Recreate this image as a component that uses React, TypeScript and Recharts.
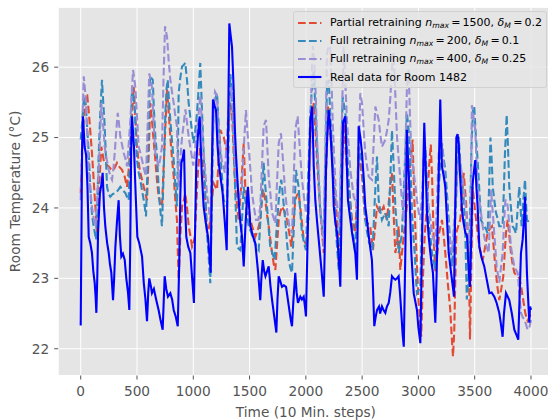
import { LineChart, Line, XAxis, YAxis, CartesianGrid } from 'recharts'

const FONT = '"DejaVu Sans", sans-serif'
const TEXT = '#555555'

const xTicks = [0, 500, 1000, 1500, 2000, 2500, 3000, 3500, 4000]
const yTicks = [22, 23, 24, 25, 26]

// [time step, temperature]
const realRoom: [number, number][] = [
  [0, 22.33], [12, 24.8], [20, 25.3], [35, 24.87], [48, 24.75], [60, 24.3], [71, 23.59], [85, 23.5], [100, 23.36], [112, 23.1],
  [124, 22.94], [132, 22.75], [139, 22.51], [147, 23.0], [154, 23.65], [170, 24.2], [185, 24.35], [195, 24.5], [207, 24.0], [219, 23.73],
  [235, 23.5], [249, 23.36], [260, 23.2], [272, 23.08], [287, 22.69], [297, 23.0], [308, 23.45], [322, 23.8], [337, 24.11], [348, 23.6],
  [361, 23.31], [375, 23.35], [391, 23.26], [405, 23.0], [420, 22.8], [432, 22.55], [440, 23.5], [448, 24.8], [456, 25.3], [473, 24.87],
  [488, 24.2], [503, 23.59], [520, 23.5], [545, 23.31], [560, 22.94], [575, 22.7], [589, 22.39], [600, 22.8], [609, 23.0], [622, 22.9],
  [633, 22.79], [650, 22.85], [670, 22.7], [692, 22.55], [710, 22.4], [728, 22.27], [738, 22.7], [746, 23.03], [760, 22.85], [775, 22.74],
  [796, 22.79], [812, 22.7], [826, 22.55], [845, 22.45], [862, 22.32], [875, 23.2], [885, 24.2], [894, 24.64], [905, 24.7], [918, 24.83],
  [928, 24.0], [938, 23.59], [955, 23.45], [974, 23.36], [990, 23.0], [1006, 22.65], [1015, 23.6], [1027, 24.64], [1040, 25.0], [1057, 25.3],
  [1075, 24.5], [1092, 24.02], [1110, 23.8], [1131, 23.59], [1145, 23.3], [1155, 23.08], [1165, 24.5], [1175, 25.54], [1190, 25.45], [1202, 25.39],
  [1215, 24.9], [1226, 24.64], [1245, 24.4], [1261, 24.21], [1280, 23.8], [1297, 23.4], [1310, 25.2], [1320, 26.62], [1332, 26.45], [1344, 26.29],
  [1359, 25.68], [1370, 25.1], [1379, 24.78], [1392, 24.4], [1403, 24.11], [1418, 23.8], [1433, 23.59], [1448, 23.17], [1462, 23.7], [1476, 24.1],
  [1486, 24.3], [1497, 24.0], [1507, 23.74], [1530, 23.6], [1551, 23.5], [1575, 23.1], [1595, 22.69], [1605, 23.0], [1617, 23.26], [1630, 23.1],
  [1641, 23.03], [1655, 23.1], [1670, 23.17], [1685, 22.9], [1700, 22.69], [1720, 22.45], [1738, 22.23], [1748, 22.7], [1759, 23.03], [1775, 22.95],
  [1788, 22.88], [1805, 22.9], [1824, 22.88], [1840, 22.7], [1857, 22.51], [1867, 22.4], [1877, 22.32], [1890, 22.7], [1906, 23.08], [1918, 22.8],
  [1930, 22.65], [1951, 22.74], [1965, 22.7], [1981, 22.74], [1992, 22.6], [2001, 22.46], [2015, 23.5], [2028, 24.5], [2040, 25.25], [2055, 25.44],
  [2062, 25.11], [2070, 24.6], [2084, 24.11], [2100, 23.8], [2120, 23.45], [2140, 23.1], [2159, 22.74], [2170, 23.6], [2179, 24.54], [2190, 25.0],
  [2203, 25.39], [2215, 25.2], [2226, 24.87], [2240, 24.4], [2248, 24.02], [2262, 23.8], [2277, 23.65], [2292, 23.3], [2306, 22.88], [2318, 24.0],
  [2330, 25.21], [2351, 25.3], [2362, 24.7], [2374, 24.11], [2390, 23.9], [2410, 23.65], [2425, 23.5], [2439, 23.36], [2454, 22.98], [2462, 24.0],
  [2469, 25.16], [2485, 25.0], [2499, 24.78], [2515, 24.4], [2528, 24.02], [2545, 23.8], [2563, 23.55], [2575, 23.4], [2587, 23.26], [2598, 22.8],
  [2608, 22.32], [2620, 22.45], [2632, 22.55], [2650, 22.6], [2660, 22.5], [2676, 22.6], [2690, 22.55], [2706, 22.51], [2720, 22.6], [2736, 22.65],
  [2750, 22.8], [2765, 23.03], [2780, 23.0], [2795, 22.98], [2810, 23.0], [2824, 23.03], [2836, 22.8], [2848, 22.51], [2860, 22.2], [2870, 22.03],
  [2885, 23.5], [2898, 25.11], [2910, 24.6], [2919, 24.3], [2937, 23.36], [2958, 22.79], [2975, 22.65], [2987, 22.55], [3000, 22.3], [3017, 22.08],
  [3030, 23.3], [3045, 24.7], [3052, 25.21], [3064, 24.6], [3076, 23.93], [3091, 23.6], [3106, 23.36], [3118, 23.2], [3129, 23.08], [3140, 22.7],
  [3150, 22.37], [3161, 23.0], [3171, 23.74], [3183, 24.7], [3194, 25.54], [3202, 25.0], [3209, 24.59], [3225, 24.45], [3239, 24.3], [3255, 23.8],
  [3269, 23.36], [3285, 23.15], [3298, 22.98], [3308, 22.85], [3316, 22.74], [3327, 24.0], [3337, 25.0], [3348, 25.05], [3358, 24.9], [3372, 24.4],
  [3387, 23.97], [3400, 23.8], [3417, 23.65], [3432, 23.6], [3447, 23.1], [3458, 22.88], [3470, 23.6], [3480, 24.3], [3488, 24.45], [3505, 24.68],
  [3515, 24.3], [3526, 24.02], [3541, 23.45], [3560, 23.3], [3585, 23.17], [3605, 23.0], [3630, 22.79], [3650, 22.8], [3674, 22.74], [3695, 22.65],
  [3718, 22.51], [3733, 22.35], [3748, 22.17], [3760, 22.5], [3778, 22.79], [3790, 22.75], [3807, 22.69], [3830, 22.5], [3852, 22.27], [3870, 22.2],
  [3887, 22.13], [3900, 22.8], [3911, 23.36], [3926, 23.55], [3940, 23.9], [3947, 24.16], [3955, 23.6], [3964, 23.08], [3975, 22.7], [3985, 22.37],
  [3992, 22.6], [4000, 22.55],
]

const partial1500: [number, number][] = [
  [0, 24.21], [15, 24.9], [30, 25.4], [45, 25.6], [58, 25.6], [75, 25.3], [100, 24.78], [115, 24.4], [130, 24.02], [145, 23.65],
  [160, 24.2], [183, 24.87], [204, 24.68], [225, 24.62], [249, 24.59], [270, 24.55], [293, 24.54], [310, 24.6], [322, 24.64], [345, 24.58],
  [367, 24.54], [390, 24.45], [411, 24.3], [430, 24.6], [450, 25.16], [471, 25.72], [485, 25.3], [500, 24.87], [515, 24.65], [529, 24.5],
  [545, 24.4], [560, 24.3], [575, 24.2], [589, 24.11], [605, 24.8], [618, 25.49], [633, 25.25], [648, 24.95], [663, 24.68], [677, 24.4],
  [692, 24.16], [708, 24.05], [722, 24.02], [745, 24.9], [767, 25.68], [780, 25.4], [796, 25.01], [811, 24.7], [826, 24.45], [841, 24.1],
  [855, 23.83], [862, 23.4], [870, 22.98], [885, 23.6], [900, 24.02], [915, 24.1], [929, 24.21], [945, 24.0], [959, 23.74], [975, 23.6],
  [989, 23.45], [1001, 23.5], [1013, 23.59], [1028, 24.1], [1042, 24.54], [1062, 24.87], [1077, 24.7], [1092, 24.5], [1107, 24.1], [1122, 23.65],
  [1137, 23.7], [1151, 23.83], [1166, 24.1], [1181, 24.35], [1196, 24.3], [1211, 24.26], [1225, 24.7], [1240, 25.11], [1255, 25.05], [1270, 25.01],
  [1285, 24.9], [1300, 24.78], [1315, 25.2], [1328, 25.49], [1344, 25.35], [1358, 24.8], [1373, 24.3], [1388, 24.05], [1403, 23.83], [1425, 24.3],
  [1448, 24.92], [1462, 24.3], [1485, 24.05], [1507, 23.83], [1530, 23.7], [1551, 23.59], [1575, 23.7], [1595, 23.83], [1609, 24.1], [1619, 24.26],
  [1640, 24.11], [1655, 23.9], [1670, 23.74], [1685, 23.55], [1700, 23.36], [1715, 23.2], [1729, 23.12], [1745, 23.5], [1759, 23.83], [1774, 23.95],
  [1788, 24.02], [1810, 23.95], [1833, 23.83], [1852, 23.65], [1871, 23.45], [1890, 23.8], [1906, 24.11], [1921, 24.18], [1936, 24.21], [1958, 23.9],
  [1981, 23.55], [1995, 23.5], [2010, 23.45], [2025, 24.2], [2040, 25.01], [2055, 25.3], [2070, 25.49], [2085, 25.1], [2099, 24.68], [2114, 24.3],
  [2128, 23.97], [2144, 23.65], [2159, 23.36], [2178, 24.4], [2197, 25.44], [2215, 25.1], [2232, 24.78], [2255, 24.3], [2277, 23.83], [2292, 23.17],
  [2314, 24.2], [2336, 25.25], [2350, 24.9], [2365, 24.54], [2388, 24.2], [2410, 23.83], [2425, 23.75], [2439, 23.65], [2454, 24.2], [2469, 24.78],
  [2484, 24.6], [2499, 24.45], [2514, 24.1], [2528, 23.83], [2550, 23.78], [2572, 23.74], [2585, 23.55], [2596, 23.4], [2614, 23.7], [2632, 24.02],
  [2647, 23.97], [2661, 23.93], [2676, 23.97], [2691, 24.02], [2706, 23.92], [2720, 23.83], [2735, 24.05], [2750, 24.3], [2765, 24.5], [2780, 23.9],
  [2795, 23.36], [2810, 23.5], [2824, 23.74], [2839, 23.12], [2854, 23.36], [2876, 23.7], [2898, 24.02], [2920, 24.5], [2948, 24.97], [2960, 24.3],
  [2972, 23.74], [2987, 23.2], [3002, 22.65], [3015, 22.4], [3025, 22.17], [3040, 23.0], [3055, 23.6], [3075, 24.0], [3095, 24.6], [3110, 24.9],
  [3122, 24.4], [3135, 23.6], [3150, 23.1], [3165, 23.3], [3185, 23.65], [3209, 23.83], [3225, 23.6], [3239, 23.36], [3260, 22.95], [3283, 22.55],
  [3295, 22.2], [3307, 21.89], [3318, 22.23], [3328, 23.0], [3337, 23.65], [3355, 23.75], [3372, 23.83], [3390, 24.2], [3402, 24.5], [3412, 24.3],
  [3422, 24.11], [3435, 23.7], [3447, 23.36], [3452, 22.8], [3458, 22.13], [3470, 23.2], [3482, 24.3], [3505, 23.93], [3541, 23.45], [3571, 23.26],
  [3593, 23.45], [3615, 23.65], [3634, 23.7], [3653, 23.74], [3668, 23.45], [3683, 23.17], [3700, 22.9], [3718, 22.69], [3736, 22.85], [3754, 23.03],
  [3766, 23.35], [3778, 23.65], [3793, 23.83], [3808, 23.6], [3822, 23.36], [3837, 23.2], [3852, 23.08], [3867, 23.05], [3882, 23.03], [3897, 23.0],
  [3911, 22.9], [3930, 22.7], [3950, 22.5], [3970, 22.4], [3985, 22.45], [4000, 22.5],
]

const full200: [number, number][] = [
  [0, 24.97], [12, 25.2], [25, 25.5], [40, 25.58], [55, 25.2], [71, 24.78], [85, 24.3], [94, 24.02], [105, 23.85], [115, 23.74],
  [125, 23.65], [136, 23.55], [148, 24.1], [160, 24.78], [175, 25.4], [189, 25.82], [200, 25.5], [210, 25.25], [222, 24.8], [234, 24.3],
  [248, 24.2], [263, 24.16], [285, 24.2], [308, 24.21], [330, 24.25], [352, 24.3], [375, 24.25], [397, 24.21], [412, 24.15], [426, 24.11],
  [440, 24.9], [456, 25.72], [468, 25.6], [480, 25.44], [490, 25.0], [500, 24.68], [515, 24.5], [529, 24.4], [545, 24.25], [560, 24.11],
  [570, 24.0], [580, 23.88], [598, 24.8], [616, 25.87], [625, 25.85], [640, 25.82], [650, 25.4], [663, 25.01], [675, 24.8], [692, 24.3],
  [705, 24.0], [722, 23.74], [737, 24.5], [752, 25.35], [763, 25.7], [773, 25.82], [785, 25.5], [796, 25.25], [811, 24.95], [826, 24.68],
  [840, 24.35], [855, 24.02], [862, 24.6], [870, 25.63], [885, 25.85], [900, 26.01], [915, 26.03], [929, 26.06], [945, 25.8], [959, 25.49],
  [980, 25.2], [1003, 24.92], [1018, 25.1], [1033, 25.35], [1048, 25.7], [1062, 26.06], [1077, 25.4], [1092, 24.78], [1107, 24.2], [1122, 23.64],
  [1137, 23.3], [1151, 22.93], [1166, 24.2], [1181, 25.49], [1196, 25.55], [1211, 25.63], [1225, 25.2], [1240, 24.78], [1255, 24.45], [1270, 24.11],
  [1285, 24.05], [1300, 24.02], [1315, 25.0], [1330, 25.9], [1344, 25.6], [1359, 24.9], [1373, 24.21], [1388, 23.45], [1403, 23.42], [1418, 23.4],
  [1432, 23.8], [1448, 24.3], [1470, 24.0], [1492, 23.74], [1515, 23.65], [1537, 23.55], [1560, 23.45], [1581, 23.4], [1603, 24.0], [1625, 24.64],
  [1640, 24.3], [1655, 24.02], [1670, 23.7], [1684, 23.45], [1705, 23.35], [1723, 23.26], [1740, 23.7], [1759, 24.11], [1770, 24.3], [1782, 24.4],
  [1800, 24.1], [1817, 23.83], [1833, 23.5], [1848, 23.26], [1862, 23.15], [1877, 23.08], [1895, 23.8], [1912, 24.54], [1925, 24.4], [1936, 24.3],
  [1950, 23.95], [1966, 23.64], [1985, 23.5], [2001, 23.4], [2020, 24.4], [2040, 25.35], [2055, 25.72], [2070, 25.96], [2085, 25.4], [2099, 24.87],
  [2114, 24.4], [2128, 23.93], [2144, 23.75], [2159, 23.59], [2173, 24.7], [2188, 25.72], [2203, 25.82], [2218, 25.3], [2232, 24.87], [2247, 24.35],
  [2262, 23.83], [2277, 23.45], [2292, 23.12], [2310, 24.4], [2327, 25.58], [2340, 25.45], [2351, 25.35], [2365, 24.9], [2380, 24.4], [2395, 24.05],
  [2410, 23.74], [2425, 23.55], [2439, 23.36], [2454, 24.1], [2469, 24.87], [2484, 24.75], [2499, 24.64], [2514, 24.2], [2528, 23.83], [2545, 23.65],
  [2563, 23.5], [2578, 23.45], [2593, 23.4], [2612, 24.1], [2632, 24.73], [2640, 24.4], [2647, 24.11], [2662, 23.95], [2676, 23.83], [2691, 23.88],
  [2706, 23.93], [2721, 23.85], [2736, 23.74], [2750, 24.4], [2765, 25.1], [2780, 24.6], [2795, 24.02], [2810, 23.7], [2824, 23.36], [2840, 23.5],
  [2854, 23.64], [2876, 24.5], [2898, 25.35], [2919, 25.01], [2931, 24.5], [2943, 23.93], [2955, 23.6], [2967, 23.36], [2978, 23.0], [2987, 22.79],
  [3002, 22.83], [3017, 22.88], [3032, 23.8], [3047, 24.68], [3061, 24.87], [3076, 24.35], [3091, 23.83], [3106, 23.6], [3120, 23.36], [3135, 23.25],
  [3150, 23.12], [3165, 23.7], [3180, 24.3], [3195, 24.6], [3209, 24.92], [3224, 24.7], [3239, 24.54], [3254, 24.2], [3269, 23.83], [3284, 23.5],
  [3298, 23.17], [3313, 23.5], [3327, 23.83], [3342, 24.4], [3358, 25.01], [3372, 24.65], [3387, 24.3], [3402, 24.15], [3417, 23.6], [3430, 22.7],
  [3445, 23.0], [3460, 24.0], [3472, 24.9], [3487, 25.44], [3496, 25.44], [3511, 25.0], [3526, 24.68], [3541, 24.25], [3556, 23.83], [3570, 23.78],
  [3585, 23.74], [3600, 23.7], [3615, 23.64], [3628, 24.3], [3640, 25.0], [3652, 24.65], [3660, 24.3], [3675, 24.1], [3689, 23.93], [3704, 23.85],
  [3718, 23.74], [3733, 23.74], [3748, 23.74], [3758, 24.2], [3769, 24.78], [3784, 25.32], [3795, 24.9], [3807, 24.3], [3822, 24.0], [3837, 23.74],
  [3852, 23.7], [3867, 23.64], [3882, 24.0], [3896, 24.3], [3907, 24.0], [3917, 23.74], [3932, 24.1], [3947, 24.4], [3955, 24.1], [3964, 23.83],
  [3980, 23.8], [3994, 23.83],
]

const full400: [number, number][] = [
  [0, 24.11], [10, 24.8], [20, 25.5], [27, 25.87], [37, 25.7], [47, 25.49], [60, 24.95], [71, 24.54], [85, 24.25], [100, 24.02],
  [115, 23.85], [130, 23.74], [145, 24.1], [160, 24.54], [172, 25.0], [183, 25.49], [198, 25.2], [213, 24.87], [230, 24.7], [249, 24.54],
  [264, 24.45], [278, 24.4], [290, 24.55], [302, 24.78], [316, 25.1], [329, 25.35], [340, 25.2], [352, 25.01], [367, 24.9], [382, 24.78],
  [397, 24.7], [411, 24.59], [426, 24.9], [441, 25.25], [453, 25.6], [465, 25.96], [475, 25.85], [485, 25.72], [500, 25.3], [515, 24.87],
  [530, 24.78], [545, 24.68], [562, 24.55], [580, 24.45], [595, 25.2], [609, 25.91], [621, 25.82], [633, 25.72], [648, 25.2], [663, 24.78],
  [677, 24.68], [692, 24.59], [707, 24.7], [722, 24.87], [735, 25.8], [749, 26.58], [767, 26.43], [781, 26.1], [796, 25.82], [811, 25.65],
  [826, 25.49], [841, 25.3], [855, 25.16], [862, 24.7], [870, 24.3], [885, 24.7], [900, 25.0], [915, 25.2], [930, 25.4], [945, 25.2],
  [960, 25.0], [980, 24.8], [1000, 24.6], [1020, 24.9], [1040, 25.2], [1062, 25.6], [1077, 25.2], [1092, 24.8], [1107, 24.5], [1122, 24.2],
  [1137, 24.0], [1150, 23.8], [1165, 24.6], [1180, 25.3], [1193, 25.65], [1210, 25.6], [1222, 25.2], [1237, 24.9], [1252, 24.68], [1266, 24.6],
  [1281, 24.5], [1295, 24.9], [1310, 25.3], [1325, 25.6], [1344, 25.72], [1358, 25.1], [1373, 24.59], [1388, 24.35], [1403, 24.11], [1418, 24.2],
  [1433, 24.3], [1450, 24.9], [1468, 25.39], [1480, 25.1], [1492, 24.87], [1507, 24.55], [1522, 24.21], [1540, 24.0], [1557, 23.83], [1578, 23.83],
  [1595, 24.02], [1610, 24.6], [1625, 25.16], [1646, 25.25], [1658, 24.85], [1670, 24.45], [1685, 24.2], [1700, 23.93], [1715, 23.85], [1729, 23.78],
  [1745, 24.4], [1759, 24.92], [1779, 25.06], [1798, 24.65], [1817, 24.21], [1835, 23.95], [1853, 23.74], [1865, 23.7], [1877, 23.64], [1892, 24.4],
  [1906, 25.11], [1927, 25.3], [1946, 24.85], [1966, 24.4], [1984, 24.15], [2001, 23.93], [2025, 23.83], [2040, 24.9], [2052, 25.9], [2062, 26.3],
  [2075, 26.1], [2088, 25.6], [2099, 25.01], [2114, 24.5], [2128, 24.02], [2144, 23.7], [2159, 23.45], [2173, 24.9], [2188, 26.2], [2203, 26.3],
  [2217, 26.29], [2228, 25.8], [2238, 25.25], [2252, 24.7], [2267, 24.21], [2282, 23.95], [2297, 23.74], [2312, 24.7], [2327, 25.72], [2336, 26.29],
  [2350, 25.8], [2365, 25.25], [2380, 24.9], [2395, 24.54], [2410, 24.35], [2425, 24.16], [2440, 24.1], [2454, 24.02], [2469, 24.8], [2484, 25.63],
  [2499, 25.49], [2514, 25.1], [2528, 24.78], [2543, 24.6], [2558, 24.45], [2572, 24.42], [2587, 24.4], [2602, 24.9], [2617, 25.44], [2632, 25.35],
  [2647, 25.25], [2661, 25.05], [2676, 24.87], [2691, 24.92], [2706, 24.97], [2721, 25.1], [2736, 25.25], [2750, 25.55], [2759, 25.82], [2770, 26.1],
  [2780, 26.2], [2795, 25.6], [2810, 25.01], [2824, 24.7], [2839, 24.4], [2854, 24.1], [2869, 23.83], [2884, 24.8], [2898, 25.72], [2913, 25.96],
  [2925, 25.3], [2937, 24.78], [2950, 24.6], [2962, 24.45], [2975, 24.3], [2987, 24.11], [3002, 23.95], [3017, 23.83], [3032, 24.2], [3047, 24.64],
  [3061, 24.6], [3076, 24.3], [3091, 24.02], [3106, 23.85], [3120, 23.64], [3135, 23.55], [3150, 23.45], [3165, 24.1], [3180, 24.78], [3195, 24.85],
  [3209, 24.92], [3224, 24.6], [3239, 24.3], [3254, 23.95], [3269, 23.64], [3284, 23.5], [3298, 23.36], [3313, 23.7], [3327, 24.02], [3342, 24.4],
  [3358, 24.78], [3380, 24.55], [3402, 24.3], [3417, 24.05], [3431, 23.83], [3446, 23.6], [3461, 23.36], [3468, 24.4], [3475, 25.46], [3482, 25.39],
  [3494, 25.25], [3505, 25.11], [3515, 24.7], [3526, 24.3], [3541, 24.1], [3556, 23.93], [3570, 23.75], [3585, 23.59], [3605, 23.45], [3624, 23.36],
  [3635, 23.8], [3645, 24.26], [3655, 24.05], [3665, 23.83], [3680, 23.5], [3695, 23.17], [3707, 23.05], [3718, 22.94], [3733, 23.15], [3748, 23.36],
  [3760, 23.75], [3772, 24.11], [3784, 24.11], [3793, 24.02], [3808, 23.75], [3822, 23.45], [3837, 23.3], [3852, 23.17], [3867, 23.12], [3882, 23.08],
  [3896, 22.8], [3911, 22.51], [3926, 22.45], [3941, 22.41], [3955, 22.35], [3970, 22.27], [3985, 22.3], [4000, 22.41],
]

const toRows = (pts: [number, number][]) => pts.map(([t, v]) => ({ t, v }))

type LegendLabel = { prefix: string; n?: string; delta?: string }

const series = [
  { key: 'partial', points: partial1500, color: '#E24A33', dashed: true, label: { prefix: 'Partial retraining ', n: '1500', delta: '0.2' } as LegendLabel },
  { key: 'full200', points: full200, color: '#348ABD', dashed: true, label: { prefix: 'Full retraining ', n: '200', delta: '0.1' } as LegendLabel },
  { key: 'full400', points: full400, color: '#988ED5', dashed: true, label: { prefix: 'Full retraining ', n: '400', delta: '0.25' } as LegendLabel },
  { key: 'real', points: realRoom, color: '#0000FF', dashed: false, label: { prefix: 'Real data for Room 1482' } as LegendLabel },
]

// plot box in page pixels (matplotlib axes)
const PLOT_LEFT = 58.2
const PLOT_TOP = 7.3
const PLOT_RIGHT = 553.5
const PLOT_BOTTOM = 375.5
const CHART_W = 560
const CHART_H = 420

const sub: React.CSSProperties = { fontSize: '0.7em', fontStyle: 'italic', position: 'relative', top: '0.25em' }
const REL = '\u2009=\u2009'

function MathLabel({ label }: { label: LegendLabel }) {
  if (!label.n) return <span>{label.prefix}</span>
  return (
    <span>
      {label.prefix}
      <i>n</i>
      <span style={sub}>max</span>
      {REL + label.n + ', '}
      <i>δ</i>
      <span style={sub}>M</span>
      {REL + label.delta}
    </span>
  )
}

function LegendBox() {
  return (
    <div
      style={{
        position: 'absolute',
        left: 293,
        top: 10.5,
        width: 254,
        height: 77,
        boxSizing: 'border-box',
        background: 'rgba(229,229,229,0.8)',
        border: '1px solid rgba(204,204,204,0.8)',
        borderRadius: 3,
        fontFamily: FONT,
        fontSize: 11,
        color: '#000',
      }}
    >
      {series.map((s, i) => (
        <div
          key={s.key}
          style={{ position: 'absolute', left: 4, top: 2 + i * 18.2, height: 18, display: 'flex', alignItems: 'center', whiteSpace: 'nowrap' }}
        >
          <svg width={24} height={8} style={{ marginRight: 8 }}>
            <line x1={0} y1={4} x2={23.4} y2={4} stroke={s.color} strokeWidth={2.1} strokeDasharray={s.dashed ? '7.7 3.3' : undefined} />
          </svg>
          <MathLabel label={s.label} />
        </div>
      ))}
    </div>
  )
}

const xLabel = () => (
  <text x={(PLOT_LEFT + PLOT_RIGHT) / 2} y={416.5} textAnchor="middle" fill={TEXT} fontSize={13.7} fontFamily={FONT}>
    Time (10 Min. steps)
  </text>
)

const yLabel = () => {
  const cy = (PLOT_TOP + PLOT_BOTTOM) / 2
  return (
    <text x={20} y={cy} transform={`rotate(-90 20 ${cy})`} textAnchor="middle" fill={TEXT} fontSize={13.7} fontFamily={FONT}>
      Room Temperature (°C)
    </text>
  )
}

export default function App() {
  const tickStyle = { fill: TEXT, fontSize: 13.7, fontFamily: FONT }
  return (
    <div style={{ position: 'fixed', left: 0, top: 0, width: 548, height: 420, overflow: 'hidden', background: '#fff' }}>
      <LineChart
        width={CHART_W}
        height={CHART_H}
        margin={{ top: PLOT_TOP, right: CHART_W - PLOT_RIGHT, bottom: 0, left: 0 }}
      >
        <CartesianGrid fill="#E5E5E5" stroke="#FFFFFF" strokeWidth={1} />
        <XAxis
          type="number"
          dataKey="t"
          domain={[-200, 4200]}
          ticks={xTicks}
          interval={0}
          allowDataOverflow
          axisLine={false}
          tickLine={{ stroke: TEXT }}
          tickSize={4}
          tickMargin={7}
          tick={tickStyle}
          height={CHART_H - PLOT_BOTTOM}
          label={xLabel}
        />
        <YAxis
          type="number"
          domain={[21.62, 26.85]}
          ticks={yTicks}
          interval={0}
          allowDataOverflow
          axisLine={false}
          tickLine={{ stroke: TEXT }}
          tickSize={4}
          tickMargin={5}
          tick={tickStyle}
          width={PLOT_LEFT}
          label={yLabel}
        />
        {series.map((s) => (
          <Line
            key={s.key}
            data={toRows(s.points)}
            dataKey="v"
            type="linear"
            stroke={s.color}
            strokeWidth={2.1}
            strokeDasharray={s.dashed ? '7.7 3.3' : undefined}
            dot={false}
            activeDot={false}
            isAnimationActive={false}
          />
        ))}
      </LineChart>
      <LegendBox />
    </div>
  )
}
